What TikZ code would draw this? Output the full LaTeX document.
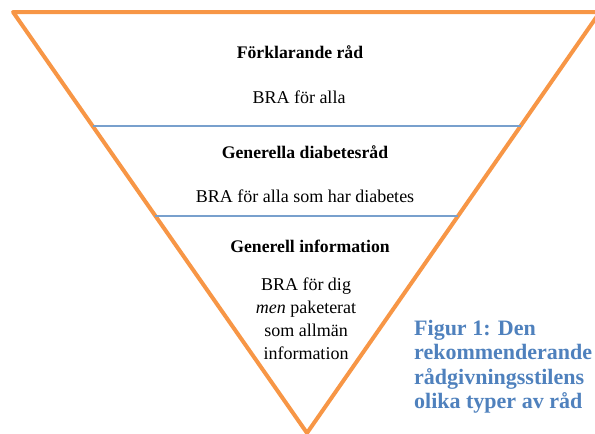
\documentclass[tikz,border=0pt]{standalone}
\usepackage{fontspec}
\setmainfont{Liberation Serif}
\usetikzlibrary{calc}
\definecolor{funnelorange}{RGB}{247,150,70}
\definecolor{splitblue}{RGB}{120,160,205}
\definecolor{captionblue}{RGB}{79,129,189}
\tikzset{
  body/.style={font=\fontsize{18}{23}\selectfont, align=center},
  head/.style={body, font=\fontsize{17.7}{23}\selectfont\bfseries},
  caption/.style={font=\fontsize{22}{24.5}\selectfont\bfseries, text=captionblue, align=left, inner sep=0pt}
}
\begin{document}
\begin{tikzpicture}[x=1pt,y=1pt,yscale=-1,xscale=1]
  \useasboundingbox (0,0) rectangle (595,434);
  % corners
  \coordinate (tl) at (13,12);
  \coordinate (tr) at (600,12);
  \coordinate (apex) at (307,433);
  %Shape: Triangle
  \draw [funnelorange, line width=4pt, line join=round] (tl) -- (tr) -- (apex) -- cycle ;
  %Straight Lines
  \draw [splitblue, line width=1.3pt] ($(tl)!0.2708!(apex)$) -- ($(tr)!0.2708!(apex)$) ;
  %Straight Lines
  \draw [splitblue, line width=1.3pt] ($(tl)!0.4846!(apex)$) -- ($(tr)!0.4846!(apex)$) ;

  % Text Node
  \node (forklarande) [head] at (300,52) {Förklarande råd};
  % Text Node
  \node (bra1) [body] at (299,97) {BRA för alla};
  % Text Node
  \node (generella) [head] at (305,152) {Generella diabetesråd};
  % Text Node
  \node (bra2) [body] at (305,196) {BRA för alla som har diabetes};
  % Text Node
  \node (generell) [head] at (310,246) {Generell information};
  % Text Node
  \node (bra3) [body, anchor=north] at (306,274) {BRA för dig\\ \textit{men} paketerat\\ som allmän\\ information};
  % Text Node
  \node (figtext) [caption, anchor=north west] at (414,320) {Figur 1: Den\\ rekommenderande\\ rådgivningsstilens\\ olika typer av råd};
\end{tikzpicture}
\end{document}
